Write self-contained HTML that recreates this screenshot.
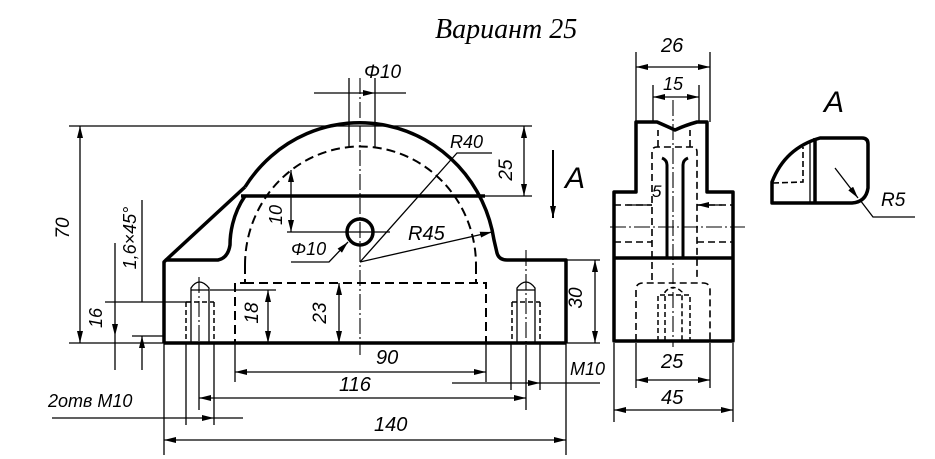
<!DOCTYPE html>
<html><head><meta charset="utf-8"><style>
html,body{margin:0;padding:0;background:#fff;}
svg{display:block;}
text{font-family:"Liberation Sans","DejaVu Sans",sans-serif;font-style:italic;fill:#000;}
.k{stroke:#000;stroke-width:3.5;fill:none;stroke-linejoin:round;}
.t{stroke:#000;stroke-width:1.3;fill:none;}
.d{stroke:#000;stroke-width:2;fill:none;stroke-dasharray:9 5;}
.c{stroke:#000;stroke-width:1.1;fill:none;stroke-dasharray:16 3 2 3;}
</style></head><body>
<svg width="935" height="459" viewBox="0 0 935 459" xmlns="http://www.w3.org/2000/svg">
<defs>
<marker id="a" viewBox="0 0 12 6" refX="12" refY="3" markerWidth="12" markerHeight="6" orient="auto-start-reverse" markerUnits="userSpaceOnUse"><path d="M0,0 L12,3 L0,6 z" fill="#000"/></marker>
</defs>
<text x="435" y="38" style="font-family:'Liberation Serif',serif;font-size:28px;">Вариант 25</text>

<!-- FRONT VIEW -->
<path class="k" d="M164,343 L566,343"/>
<path class="k" d="M164,343 L164,262 L166,260 L218,260 Q228,258 230,245 C230,235 232,215 245,196"/>
<path class="k" d="M166,260 L245,187"/>
<path class="k" d="M245,187 A136,139 0 0 1 494,240 L497,253 Q499,260 507,260 L566,260 L566,343"/>
<path class="k" d="M241,196 L485,196"/>
<circle class="k" cx="360" cy="232" r="13"/>
<!-- dashed hidden -->
<path class="d" d="M245,265 A115,118 0 0 1 476,265"/>
<path class="d" d="M245,265 L245,283 L235,283 L235,343 M245,283 L486,283 L486,343 M476,265 L476,283"/>
<!-- holes -->
<g>
<path class="t" d="M191,343 L191,288 Q199,276 209,288 L209,343 M191,290 L209,290"/>
<path class="d" d="M186,302 L186,343 M214,302 L214,343 M186,302 L214,302" style="stroke-width:1.5;stroke-dasharray:5 3"/>
<path class="t" d="M526,276 L526,343" style="display:none"/>
<path class="t" d="M517,343 L517,288 Q526,276 535,288 L535,343 M517,290 L535,290"/>
<path class="d" d="M512,302 L512,343 M540,302 L540,343 M512,302 L540,302" style="stroke-width:1.5;stroke-dasharray:5 3"/>
</g>
<!-- centerlines -->
<path class="c" d="M360,78 L360,355"/>
<path class="c" d="M199,277 L199,345 M526,250 L526,345"/>
<!-- extension lines -->
<path class="t" d="M69,126 L532,126 M485,196 L532,196"/>
<path class="t" d="M349,78 L349,147 M375,78 L375,147"/>
<path class="t" d="M69,343 L164,343 M566,260 L600,260 M566,343 L600,343"/>
<path class="t" d="M164,343 L164,455 M566,343 L566,455 M235,343 L235,382 M486,343 L486,382 M199,345 L199,410 M526,345 L526,410 M186,343 L186,425 M214,343 L214,425 M511,343 L511,390 M540,343 L540,390"/>
<path class="t" d="M105,302 L191,302 M132,336 L164,336 M210,290 L276,290 M287,232 L390,232"/>
<!-- dimensions -->
<path class="t" marker-start="url(#a)" marker-end="url(#a)" d="M524,126 L524,196"/>
<text transform="translate(512,170) rotate(-90)" font-size="19" text-anchor="middle">25</text>
<path class="t" marker-end="url(#a)" d="M553,150 L553,218" style="stroke-width:2"/>
<text x="565" y="188" font-size="30">A</text>
<path class="t" marker-start="url(#a)" marker-end="url(#a)" d="M80,126 L80,343"/>
<text transform="translate(69,228) rotate(-90)" font-size="19" text-anchor="middle">70</text>
<path class="t" marker-end="url(#a)" d="M314,93 L349,93 M406,93 L375,93 M349,93 L375,93"/>
<text x="364" y="78" font-size="19">Φ10</text>
<path class="t" marker-start="url(#a)" marker-end="url(#a)" d="M291,170 L291,232"/>
<text transform="translate(282,215) rotate(-90)" font-size="18" text-anchor="middle">10</text>
<path class="t" marker-end="url(#a)" d="M291,262 L329,262 L348,242"/>
<text x="291" y="255" font-size="18">Φ10</text>
<path class="t" marker-end="url(#a)" d="M360,262 L492,232"/>
<text x="408" y="240" font-size="20">R45</text>
<path class="t" d="M360,262 L457,153 L492,153"/>
<text x="450" y="148" font-size="18">R40</text>
<path class="t" marker-start="url(#a)" marker-end="url(#a)" d="M339,283 L339,343"/>
<text transform="translate(326,313) rotate(-90)" font-size="19" text-anchor="middle">23</text>
<path class="t" marker-start="url(#a)" marker-end="url(#a)" d="M268,290 L268,343"/>
<text transform="translate(258,313) rotate(-90)" font-size="19" text-anchor="middle">18</text>
<path class="t" marker-start="url(#a)" marker-end="url(#a)" d="M595,260 L595,343"/>
<text transform="translate(582,298) rotate(-90)" font-size="19" text-anchor="middle">30</text>
<path class="t" marker-end="url(#a)" d="M452,383 L511,383 M600,383 L540,383 M511,383 L540,383"/>
<text x="570" y="375" font-size="18">M10</text>
<path class="t" marker-start="url(#a)" marker-end="url(#a)" d="M235,372 L486,372"/>
<text x="376" y="364" font-size="20">90</text>
<path class="t" marker-start="url(#a)" marker-end="url(#a)" d="M199,398 L526,398"/>
<text x="339" y="391" font-size="20">116</text>
<path class="t" marker-start="url(#a)" marker-end="url(#a)" d="M164,440 L566,440"/>
<text x="374" y="431" font-size="20">140</text>
<path class="t" marker-end="url(#a)" d="M52,418 L186,418 M243,418 L214,418 M186,418 L214,418"/>
<text x="48" y="407" font-size="18">2отв М10</text>
<path class="t" marker-end="url(#a)" d="M115,243 L115,302 M115,370 L115,336 M115,302 L115,336"/>
<text transform="translate(102,318) rotate(-90)" font-size="18" text-anchor="middle">16</text>
<path class="t" marker-end="url(#a)" d="M142,200 L142,302 M142,370 L142,336"/>
<text transform="translate(136,238) rotate(-90)" font-size="18" text-anchor="middle">1,6×45°</text>

<!-- SIDE VIEW -->
<path class="k" d="M614,341 L733,341 L733,192 L707,192 L707,122 L697,122 Q686,125 675,130 Q664,125 657,122 L636,122 L636,192 L614,192 Z"/>
<path class="k" d="M614,258 L733,258"/>
<path class="k" d="M667,258 L667,165 Q667,160 662,158 M683,258 L683,165 Q683,160 688,158" style="stroke-width:3"/>
<path class="d" d="M652,280 L652,152 Q652,147 657,147 L692,147 Q697,147 697,152 L697,280 M658,147 L658,130 M690,147 L690,130" style="stroke-width:1.6;stroke-dasharray:7 4"/>
<path class="d" d="M614,205 L652,205 M697,205 L733,205 M614,242 L652,242 M697,242 L733,242" style="stroke-width:1.6;stroke-dasharray:7 4"/>
<path class="d" d="M636,341 L636,290 Q636,283 643,283 L703,283 Q710,283 710,290 L710,341" style="stroke-width:1.6;stroke-dasharray:7 4"/>
<path class="d" d="M658,341 L658,295 L690,295 L690,341 M665,341 L665,292 Q673,283 682,292 L682,341" style="stroke-width:1.5;stroke-dasharray:5 3"/>
<path class="c" d="M610,227 L745,227 M673,100 L673,347"/>
<path class="t" d="M636,52 L636,122 M710,52 L710,122 M653,85 L653,122 M699,85 L699,122"/>
<path class="t" marker-start="url(#a)" marker-end="url(#a)" d="M636,67 L710,67"/>
<text x="661" y="52" font-size="20">26</text>
<path class="t" marker-start="url(#a)" marker-end="url(#a)" d="M653,97 L699,97"/>
<text x="663" y="90" font-size="18">15</text>
<path class="t" marker-end="url(#a)" d="M627,205 L652,205 M722,205 L697,205"/>
<text x="652" y="197" font-size="17">5</text>
<path class="t" d="M636,343 L636,388 M710,343 L710,388 M614,343 L614,422 M733,343 L733,422"/>
<path class="t" marker-start="url(#a)" marker-end="url(#a)" d="M636,380 L710,380"/>
<text x="661" y="368" font-size="20">25</text>
<path class="t" marker-start="url(#a)" marker-end="url(#a)" d="M614,410 L733,410"/>
<text x="661" y="404" font-size="20">45</text>

<!-- VIEW A -->
<text x="824" y="112" font-size="30">A</text>
<path class="k" d="M772,203 L772,182 Q785,148 820,138 L862,138 Q868,138 868,144 L868,188 Q866,202 852,203 Z"/>
<path class="k" d="M815,138 L815,203"/>
<path class="t" d="M810,143 L810,203"/>
<path class="d" d="M773,183 L803,182 L803,147" style="stroke-width:1.6;stroke-dasharray:6 3"/>
<path class="t" marker-end="url(#a)" d="M835,168 L858,198"/>
<path class="t" d="M860,200 L873,217 L915,217"/>
<text x="881" y="206" font-size="19">R5</text>
</svg>
</body></html>
